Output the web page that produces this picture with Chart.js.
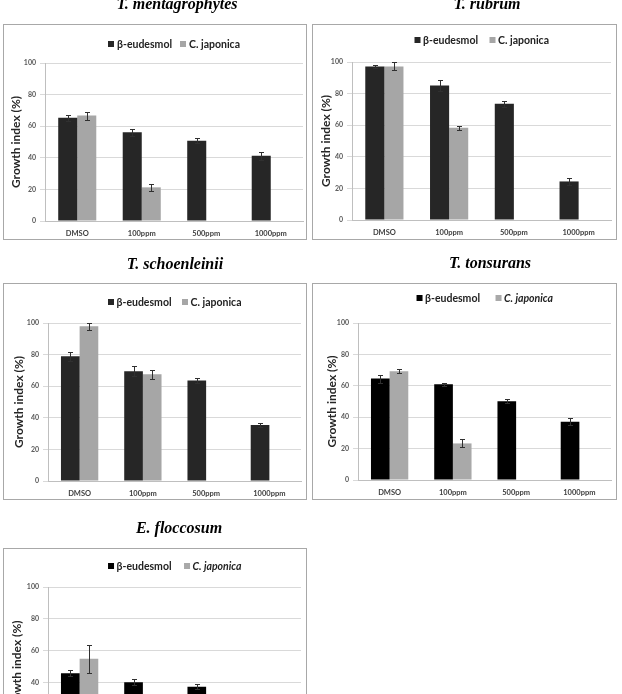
<!DOCTYPE html>
<html>
<head>
<meta charset="utf-8">
<script src="https://cdn.jsdelivr.net/npm/chart.js@4.4.1/dist/chart.umd.min.js"></script>
<style>
  html, body { margin: 0; padding: 0; background: #fff; width: 622px; height: 694px; overflow: hidden; }
  .box { position: absolute; border: 1px solid #a8a8a8; box-sizing: border-box; pointer-events: none; }
  canvas { position: absolute; }
  .ttl { position: absolute; font-family: "Liberation Serif", serif; font-weight: bold; font-style: italic; font-size: 16px; color: #000; white-space: nowrap; transform: translate(-50%, -50%); }
  .leg { position: absolute; font-family: Lato, "Open Sans", sans-serif; font-weight: bold; font-size: 10.5px; color: #222; white-space: nowrap; transform: translate(-50%, -50%); display: flex; align-items: center; }
  .leg .sq { display: inline-block; width: 6px; height: 6px; margin-right: 3px; }
</style>
</head>
<body>
<script>
// ---------- data ----------
const categories = ['DMSO', '100ppm', '500ppm', '1000ppm'];
const seriesNames = ['β-eudesmol', 'C. japonica'];
const yTicks = [0, 20, 40, 60, 80, 100];
const panelTitles = ['T. mentagrophytes', 'T. rubrum', 'T. schoenleinii', 'T. tonsurans', 'E. floccosum'];

const mentagrophytesBeta = [65.3, 56.1, 50.8, 41.3];
const mentagrophytesBetaErr = [2.0, 2.2, 1.7, 2.5];
const mentagrophytesJap = [66.7, 21.3, null, null];
const mentagrophytesJapErr = [2.5, 2.0, null, null];

const rubrumBeta = [97.2, 85.1, 73.5, 24.4];
const rubrumBetaErr = [0.7, 3.3, 1.9, 2.1];
const rubrumJap = [97.2, 58.4, null, null];
const rubrumJapErr = [2.5, 1.3, null, null];

const schoenleiniiBeta = [78.9, 69.5, 63.6, 35.4];
const schoenleiniiBetaErr = [2.7, 3.2, 1.7, 1.0];
const schoenleiniiJap = [97.9, 67.6, null, null];
const schoenleiniiJapErr = [2.1, 2.9, null, null];

const tonsuransBeta = [64.6, 61.0, 50.2, 37.1];
const tonsuransBetaErr = [2.5, 1.1, 1.1, 2.1];
const tonsuransJap = [69.3, 23.3, null, null];
const tonsuransJapErr = [1.3, 2.5, null, null];

const floccosumBeta = [45.8, 40.1, 37.3, 28.0];
const floccosumBetaErr = [2.0, 2.0, 1.7, 2.0];
const floccosumJap = [54.9, 20.0, null, null];
const floccosumJapErr = [8.8, 2.0, null, null];

// ---------- layout / style per panel ----------
const panels = [
  { title: panelTitles[0], beta: mentagrophytesBeta, betaErr: mentagrophytesBetaErr, jap: mentagrophytesJap, japErr: mentagrophytesJapErr,
    tx: 177, ty: 4, box: [3, 24, 304, 216], L: 42, R: 4, T: 39, B: 19, titlePad: 6, legY: 20, legGap: 8, dark: '#262626', light: '#a6a6a6', italic: false },
  { title: panelTitles[1], beta: rubrumBeta, betaErr: rubrumBetaErr, jap: rubrumJap, japErr: rubrumJapErr,
    tx: 487, ty: 4, box: [312, 24, 305, 216], L: 40, R: 6, T: 38, B: 20, titlePad: 7, legY: 16, legGap: 11, dark: '#262626', light: '#a6a6a6', italic: false },
  { title: panelTitles[2], beta: schoenleiniiBeta, betaErr: schoenleiniiBetaErr, jap: schoenleiniiJap, japErr: schoenleiniiJapErr,
    tx: 175, ty: 264, box: [3, 283, 304, 217], L: 45, R: 6, T: 40, B: 19, titlePad: 9, legY: 19, legGap: 10, dark: '#262626', light: '#a6a6a6', italic: false },
  { title: panelTitles[3], beta: tonsuransBeta, betaErr: tonsuransBetaErr, jap: tonsuransJap, japErr: tonsuransJapErr,
    tx: 490, ty: 263, box: [312, 283, 305, 217], L: 46, R: 6, T: 40, B: 20, titlePad: 13, legY: 15, legGap: 15, dark: '#000000', light: '#a9a9a9', italic: true },
  { title: panelTitles[4], beta: floccosumBeta, betaErr: floccosumBetaErr, jap: floccosumJap, japErr: floccosumJapErr,
    tx: 179, ty: 528, box: [3, 548, 304, 217], L: 45, R: 6, T: 39, B: 19, titlePad: 7, legY: 18, legGap: 12, dark: '#000000', light: '#a9a9a9', italic: true }
];

const errorBars = {
  id: 'errorBars',
  afterDatasetsDraw(chart) {
    const ctx = chart.ctx, ys = chart.scales.y;
    chart.data.datasets.forEach((ds, i) => {
      const meta = chart.getDatasetMeta(i);
      meta.data.forEach((bar, j) => {
        const v = ds.data[j], e = ds.errors[j];
        if (v == null || e == null) return;
        const yt = Math.round(ys.getPixelForValue(v + e)) + 0.5;
        const yb = Math.round(ys.getPixelForValue(v - e)) + 0.5;
        const x = Math.round(bar.x) + 0.5;
        ctx.save();
        ctx.strokeStyle = '#303030';
        ctx.lineWidth = 1;
        ctx.beginPath();
        ctx.moveTo(x, yt); ctx.lineTo(x, yb);
        ctx.moveTo(x - 2.5, yt); ctx.lineTo(x + 2.5, yt);
        ctx.moveTo(x - 2.5, yb); ctx.lineTo(x + 2.5, yb);
        ctx.stroke();
        ctx.restore();
      });
    });
  }
};

panels.forEach((p) => {
  const [bx, by, bw, bh] = p.box;
  const cv = document.createElement('canvas');
  cv.width = bw; cv.height = bh;
  cv.style.left = bx + 'px'; cv.style.top = by + 'px';
  cv.style.width = bw + 'px'; cv.style.height = bh + 'px';
  document.body.appendChild(cv);

  const frame = document.createElement('div');
  frame.className = 'box';
  frame.style.left = bx + 'px'; frame.style.top = by + 'px';
  frame.style.width = bw + 'px'; frame.style.height = bh + 'px';
  document.body.appendChild(frame);

  const t = document.createElement('div');
  t.className = 'ttl';
  t.textContent = p.title;
  t.style.left = p.tx + 'px'; t.style.top = p.ty + 'px';
  document.body.appendChild(t);

  const chart = new Chart(cv, {
    type: 'bar',
    data: {
      labels: categories,
      datasets: [
        { label: seriesNames[0], data: p.beta, errors: p.betaErr, backgroundColor: p.dark, borderWidth: 0 },
        { label: seriesNames[1], data: p.jap, errors: p.japErr, backgroundColor: p.light, borderWidth: 0 }
      ]
    },
    options: {
      responsive: false,
      animation: false,
      devicePixelRatio: 1,
      layout: { padding: { left: 0, right: p.R, top: p.T, bottom: 0 } },
      datasets: { bar: { categoryPercentage: 0.59, barPercentage: 1.0 } },
      plugins: { legend: { display: false }, tooltip: { enabled: false } },
      scales: {
        x: {
          grid: { display: false, drawTicks: false },
          border: { display: true, color: '#bfbfbf', width: 1 },
          ticks: { padding: 8, color: '#404040', font: { family: 'Lato', weight: 'bold', size: 7.5 } },
          afterFit: (s) => { s.height = p.B; }
        },
        y: {
          min: 0, max: 100,
          afterBuildTicks: (s) => { s.ticks = yTicks.map(v => ({ value: v })); },
          grid: { color: '#d9d9d9', lineWidth: 1, tickLength: 5, drawTicks: true },
          border: { display: true, color: '#bfbfbf', width: 1 },
          ticks: { padding: 4, color: '#595959', font: { family: 'Lato', weight: 'bold', size: 7 } },
          title: { display: true, text: 'Growth index (%)', color: '#262626', padding: { top: p.titlePad, bottom: 0 },
                   font: { family: 'Lato', weight: 'bold', size: 12 } },
          afterFit: (s) => { s.width = p.L; }
        }
      }
    },
    plugins: [errorBars]
  });

  // HTML legend centred over the plot area
  const ca = chart.chartArea;
  const leg = document.createElement('div');
  leg.className = 'leg';
  leg.style.left = (bx + (ca.left + ca.right) / 2) + 'px';
  leg.style.top = (by + p.legY) + 'px';
  chart.data.datasets.forEach((ds, i) => {
    const item = document.createElement('span');
    item.style.display = 'inline-flex';
    item.style.alignItems = 'center';
    if (i > 0) item.style.marginLeft = p.legGap + 'px';
    const sq = document.createElement('span');
    sq.className = 'sq';
    sq.style.background = ds.backgroundColor;
    const tx = document.createElement('span');
    tx.textContent = ds.label;
    if (i === 1 && p.italic) tx.style.fontStyle = 'italic';
    item.appendChild(sq); item.appendChild(tx);
    leg.appendChild(item);
  });
  document.body.appendChild(leg);
});
</script>
</body>
</html>
